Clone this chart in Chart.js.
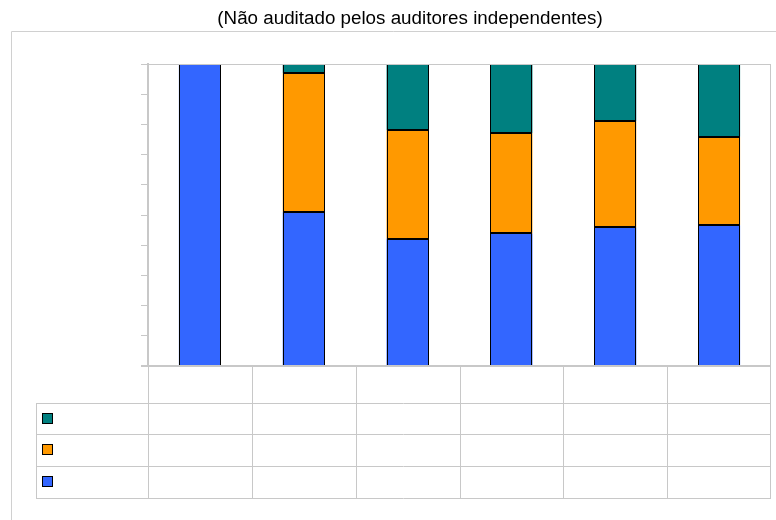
<!DOCTYPE html>
<html>
<head>
<meta charset="utf-8">
<script src="https://cdn.jsdelivr.net/npm/chart.js@4"></script>
<style>
  html, body { margin: 0; padding: 0; background: #ffffff; }
  #wrap { width: 776px; height: 520px; position: relative; }
</style>
</head>
<body>
<div id="wrap"><canvas id="c" width="776" height="520"></canvas></div>
<script>
const titleText = '(Não auditado pelos auditores independentes)';
const categories = ['1', '2', '3', '4', '5', '6'];
const seriesNames = ['Série 1', 'Série 2', 'Série 3'];
const blueValues = [100, 51.0, 42.2, 43.9, 45.9, 46.6];
const orangeValues = [0, 46.0, 35.9, 33.2, 35.2, 29.3];
const tealValues = [0, 3.0, 21.9, 22.9, 18.9, 24.1];
const yTicks = [0, 10, 20, 30, 40, 50, 60, 70, 80, 90, 100];

const colors = { blue: '#3366ff', orange: '#ff9900', teal: '#008080' };
const gridGrey = '#c8c8c8';

const barBorderPlugin = {
  id: 'barBorderPlugin',
  afterDatasetsDraw(chart) {
    const ctx = chart.ctx;
    ctx.save();
    ctx.strokeStyle = '#000000';
    ctx.lineWidth = 1;
    chart.data.datasets.forEach((ds, di) => {
      const meta = chart.getDatasetMeta(di);
      meta.data.forEach((el, i) => {
        if (!ds.data[i]) return;
        const p = el.getProps(['x', 'y', 'base', 'width'], true);
        const l = Math.round(p.x - p.width / 2) + 0.5;
        const r = Math.round(p.x + p.width / 2) - 0.5;
        const t = Math.round(Math.min(p.y, p.base)) + 0.5;
        const b = Math.round(Math.max(p.y, p.base)) - 0.5;
        ctx.strokeRect(l, t, r - l, b - t);
      });
    });
    ctx.restore();
  }
};

const tablePlugin = {
  id: 'tablePlugin',
  afterDraw(chart) {
    const ctx = chart.ctx;
    const area = chart.chartArea;
    const xs = chart.scales.x;
    const n = categories.length;
    const step = (area.right - area.left) / n;
    const bounds = [];
    for (let i = 0; i < n; i++) bounds.push(xs.getPixelForValue(i) - step / 2);
    bounds.push(xs.getPixelForValue(n - 1) + step / 2);

    ctx.save();
    ctx.strokeStyle = '#d0d0d0';
    ctx.lineWidth = 1;
    ctx.beginPath();
    ctx.moveTo(11.5, 520);
    ctx.lineTo(11.5, 31.5);
    ctx.lineTo(776, 31.5);
    ctx.stroke();

    ctx.fillStyle = '#000000';
    ctx.font = '18.8px "Liberation Sans", Arial, sans-serif';
    ctx.textAlign = 'center';
    ctx.textBaseline = 'middle';
    ctx.fillText(titleText, 410, 19);

    ctx.strokeStyle = gridGrey;
    ctx.lineWidth = 1;
    ctx.beginPath();
    ctx.moveTo(area.left - 7, Math.round(area.top) + 0.5);
    ctx.lineTo(area.right, Math.round(area.top) + 0.5);
    ctx.moveTo(Math.round(area.right) - 0.5, area.top);
    ctx.lineTo(Math.round(area.right) - 0.5, area.bottom);
    ctx.stroke();

    ctx.lineWidth = 2;
    ctx.beginPath();
    ctx.moveTo(area.left - 7, Math.round(area.bottom));
    ctx.lineTo(area.right, Math.round(area.bottom));
    ctx.stroke();

    const rowY = [area.bottom, 403, 434, 466, 498];
    const legendLeft = 36;
    ctx.lineWidth = 1;
    ctx.beginPath();
    for (let r = 1; r < rowY.length; r++) {
      const y = Math.round(rowY[r]) + 0.5;
      ctx.moveTo(legendLeft, y);
      ctx.lineTo(area.right, y);
    }
    for (let i = 0; i < bounds.length; i++) {
      const x = Math.round(bounds[i]) - (i === bounds.length - 1 ? 0.5 : -0.5);
      ctx.moveTo(x, area.bottom);
      ctx.lineTo(x, rowY[rowY.length - 1]);
    }
    ctx.moveTo(legendLeft + 0.5, rowY[1]);
    ctx.lineTo(legendLeft + 0.5, rowY[rowY.length - 1]);
    ctx.stroke();

    const sw = [colors.teal, colors.orange, colors.blue];
    for (let r = 0; r < 3; r++) {
      const cy = (rowY[r + 1] + rowY[r + 2]) / 2;
      ctx.fillStyle = sw[r];
      ctx.fillRect(42, Math.round(cy - 6), 11, 11);
      ctx.strokeStyle = '#000000';
      ctx.strokeRect(42.5, Math.round(cy - 6) + 0.5, 10, 10);
    }
    ctx.restore();
  }
};

new Chart(document.getElementById('c'), {
  type: 'bar',
  data: {
    labels: categories,
    datasets: [
      { label: seriesNames[0], data: blueValues, backgroundColor: colors.blue },
      { label: seriesNames[1], data: orangeValues, backgroundColor: colors.orange },
      { label: seriesNames[2], data: tealValues, backgroundColor: colors.teal }
    ]
  },
  options: {
    responsive: false,
    animation: false,
    devicePixelRatio: 1,
    layout: { padding: { left: 141, right: 5, top: 64, bottom: 154 } },
    datasets: {
      bar: {
        borderWidth: 0,
        categoryPercentage: 1.0,
        barPercentage: 0.405
      }
    },
    plugins: { legend: { display: false }, title: { display: false }, tooltip: { enabled: false } },
    scales: {
      x: { stacked: true, display: false, offset: true },
      y: {
        stacked: true,
        min: 0,
        max: 100,
        afterBuildTicks(scale) { scale.ticks = yTicks.map(v => ({ value: v })); },
        afterFit(scale) { scale.width = 7; },
        ticks: { display: false },
        grid: { drawOnChartArea: false, drawTicks: true, tickLength: 7, color: gridGrey },
        border: { display: true, color: gridGrey, width: 2 }
      }
    }
  },
  plugins: [barBorderPlugin, tablePlugin]
});
</script>
</body>
</html>
